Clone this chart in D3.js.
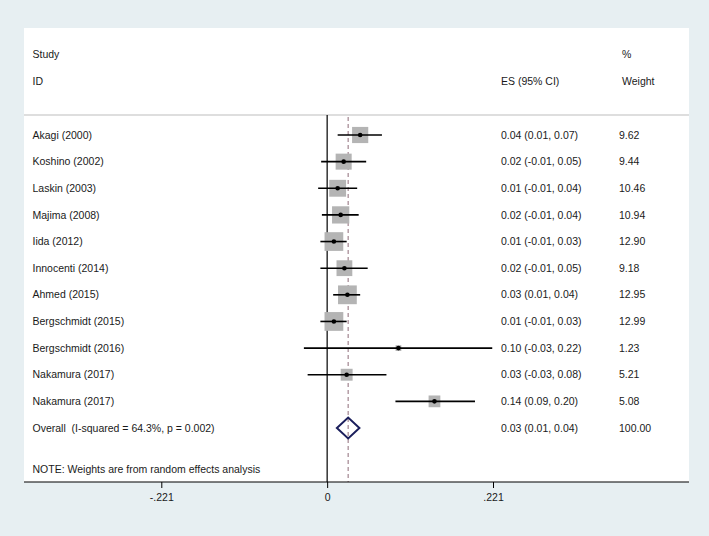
<!DOCTYPE html>
<html>
<head>
<meta charset="utf-8">
<script src="https://cdn.jsdelivr.net/npm/d3@7"></script>
<style>
  html, body { margin: 0; padding: 0; background: #e7eff2; }
  svg { display: block; }
  text { font-family: "Liberation Sans", Arial, sans-serif; font-size: 10.5px; fill: #1a1a1a; white-space: pre; }
</style>
</head>
<body>
<svg id="chart" width="709" height="536"></svg>
<script>
// ---- data ----
const studies = ["Akagi (2000)", "Koshino (2002)", "Laskin (2003)", "Majima (2008)", "Iida (2012)",
  "Innocenti (2014)", "Ahmed (2015)", "Bergschmidt (2015)", "Bergschmidt (2016)", "Nakamura (2017)", "Nakamura (2017)"];
const es    = [0.044, 0.022, 0.014, 0.018, 0.009, 0.023, 0.027, 0.009, 0.095, 0.026, 0.143];
const lower = [0.014, -0.008, -0.012, -0.007, -0.009, -0.009, 0.008, -0.009, -0.031, -0.026, 0.091];
const upper = [0.073, 0.052, 0.040, 0.042, 0.026, 0.054, 0.044, 0.026, 0.220, 0.079, 0.197];
const weights = [9.62, 9.44, 10.46, 10.94, 12.90, 9.18, 12.95, 12.99, 1.23, 5.21, 5.08];
const esLabels = ["0.04 (0.01, 0.07)", "0.02 (-0.01, 0.05)", "0.01 (-0.01, 0.04)", "0.02 (-0.01, 0.04)",
  "0.01 (-0.01, 0.03)", "0.02 (-0.01, 0.05)", "0.03 (0.01, 0.04)", "0.01 (-0.01, 0.03)",
  "0.10 (-0.03, 0.22)", "0.03 (-0.03, 0.08)", "0.14 (0.09, 0.20)"];
const weightLabels = ["9.62", "9.44", "10.46", "10.94", "12.90", "9.18", "12.95", "12.99", "1.23", "5.21", "5.08"];
const overallLabel = "Overall  (I-squared = 64.3%, p = 0.002)";
const overallES = 0.028, overallLo = 0.013, overallHi = 0.043;
const overallESLabel = "0.03 (0.01, 0.04)";
const overallWeightLabel = "100.00";
const tickValues = [-0.221, 0, 0.221];
const tickLabels = ["-.221", "0", ".221"];
const noteText = "NOTE: Weights are from random effects analysis";

// ---- layout ----
const svg = d3.select("#chart");
const panel = { left: 24, right: 689, top: 28, bottom: 482 };
const plotTop = 115;

svg.append("rect")
  .attr("x", panel.left).attr("y", panel.top)
  .attr("width", panel.right - panel.left).attr("height", panel.bottom - panel.top)
  .attr("fill", "#ffffff");

const x = d3.scaleLinear().domain([-0.221, 0.221]).range([161.3, 493]);
const rowIdx = d3.range(studies.length + 1);
const y = d3.scalePoint().domain(rowIdx).range([135, 428]);
const boxSize = d3.scaleSqrt().domain([0, 13]).range([0, 18.8]);

// separator line under headers
svg.append("line")
  .attr("x1", panel.left).attr("x2", panel.right)
  .attr("y1", plotTop).attr("y2", plotTop)
  .attr("stroke", "#bdbdbd").attr("stroke-width", 1);

// headers
const colStudy = 32.5, colES = 501, colW = 619;
const hdr = svg.append("g");
hdr.append("text").attr("x", colStudy).attr("y", 54).attr("dy", "0.35em").text("Study");
hdr.append("text").attr("x", colStudy).attr("y", 81).attr("dy", "0.35em").text("ID");
hdr.append("text").attr("x", colES).attr("y", 81).attr("dy", "0.35em").text("ES (95% CI)");
hdr.append("text").attr("x", colW + 3).attr("y", 54).attr("dy", "0.35em").text("%");
hdr.append("text").attr("x", colW + 3).attr("y", 81).attr("dy", "0.35em").text("Weight");

// null line
svg.append("line")
  .attr("x1", x(0)).attr("x2", x(0))
  .attr("y1", plotTop).attr("y2", panel.bottom)
  .attr("stroke", "#000").attr("stroke-width", 1.2);

// overall dashed line
svg.append("line")
  .attr("x1", x(overallES)).attr("x2", x(overallES))
  .attr("y1", plotTop + 2).attr("y2", panel.bottom)
  .attr("stroke", "#a1848f").attr("stroke-width", 1.2)
  .attr("stroke-dasharray", "4,3");

// study rows
const rows = svg.append("g").selectAll("g").data(studies).join("g");
rows.append("rect")
  .attr("x", (d, i) => x(es[i]) - boxSize(weights[i]) / 2)
  .attr("y", (d, i) => y(i) - boxSize(weights[i]) / 2)
  .attr("width", (d, i) => boxSize(weights[i]))
  .attr("height", (d, i) => boxSize(weights[i]))
  .attr("fill", "#b4b4b4");
rows.append("line")
  .attr("x1", (d, i) => x(lower[i])).attr("x2", (d, i) => x(upper[i]))
  .attr("y1", (d, i) => y(i)).attr("y2", (d, i) => y(i))
  .attr("stroke", "#000").attr("stroke-width", 1.6);
rows.append("circle")
  .attr("cx", (d, i) => x(es[i])).attr("cy", (d, i) => y(i))
  .attr("r", 2.3).attr("fill", "#000");
rows.append("text").attr("x", colStudy).attr("y", (d, i) => y(i)).attr("dy", "0.35em").text(d => d);
rows.append("text").attr("x", colES).attr("y", (d, i) => y(i)).attr("dy", "0.35em").text((d, i) => esLabels[i]);
rows.append("text").attr("x", colW).attr("y", (d, i) => y(i)).attr("dy", "0.35em").text((d, i) => weightLabels[i]);

// overall
const yo = y(studies.length);
svg.append("path")
  .attr("d", `M${x(overallLo)},${yo} L${x(overallES)},${yo - 10.5} L${x(overallHi)},${yo} L${x(overallES)},${yo + 10.5} Z`)
  .attr("fill", "none").attr("stroke", "#1b1f5c").attr("stroke-width", 2);
svg.append("text").attr("x", colStudy).attr("y", yo).attr("dy", "0.35em").text(overallLabel);
svg.append("text").attr("x", colES).attr("y", yo).attr("dy", "0.35em").text(overallESLabel);
svg.append("text").attr("x", colW).attr("y", yo).attr("dy", "0.35em").text(overallWeightLabel);

// note
svg.append("text").attr("x", colStudy).attr("y", 469).attr("dy", "0.35em").text(noteText);

// axis
const axis = d3.axisBottom(x).tickValues(tickValues)
  .tickFormat((d, i) => tickLabels[i]).tickSize(6).tickPadding(6);
const gAxis = svg.append("g").attr("transform", `translate(0,${panel.bottom})`).call(axis);
gAxis.select(".domain").remove();
gAxis.append("line").attr("x1", panel.left).attr("x2", panel.right)
  .attr("stroke", "#000").attr("stroke-width", 1.2);
gAxis.selectAll(".tick line").attr("stroke", "#000");
gAxis.selectAll(".tick text").attr("fill", "#1a1a1a")
  .style("font-family", "'Liberation Sans', Arial, sans-serif").style("font-size", "10.5px");
</script>
</body>
</html>
